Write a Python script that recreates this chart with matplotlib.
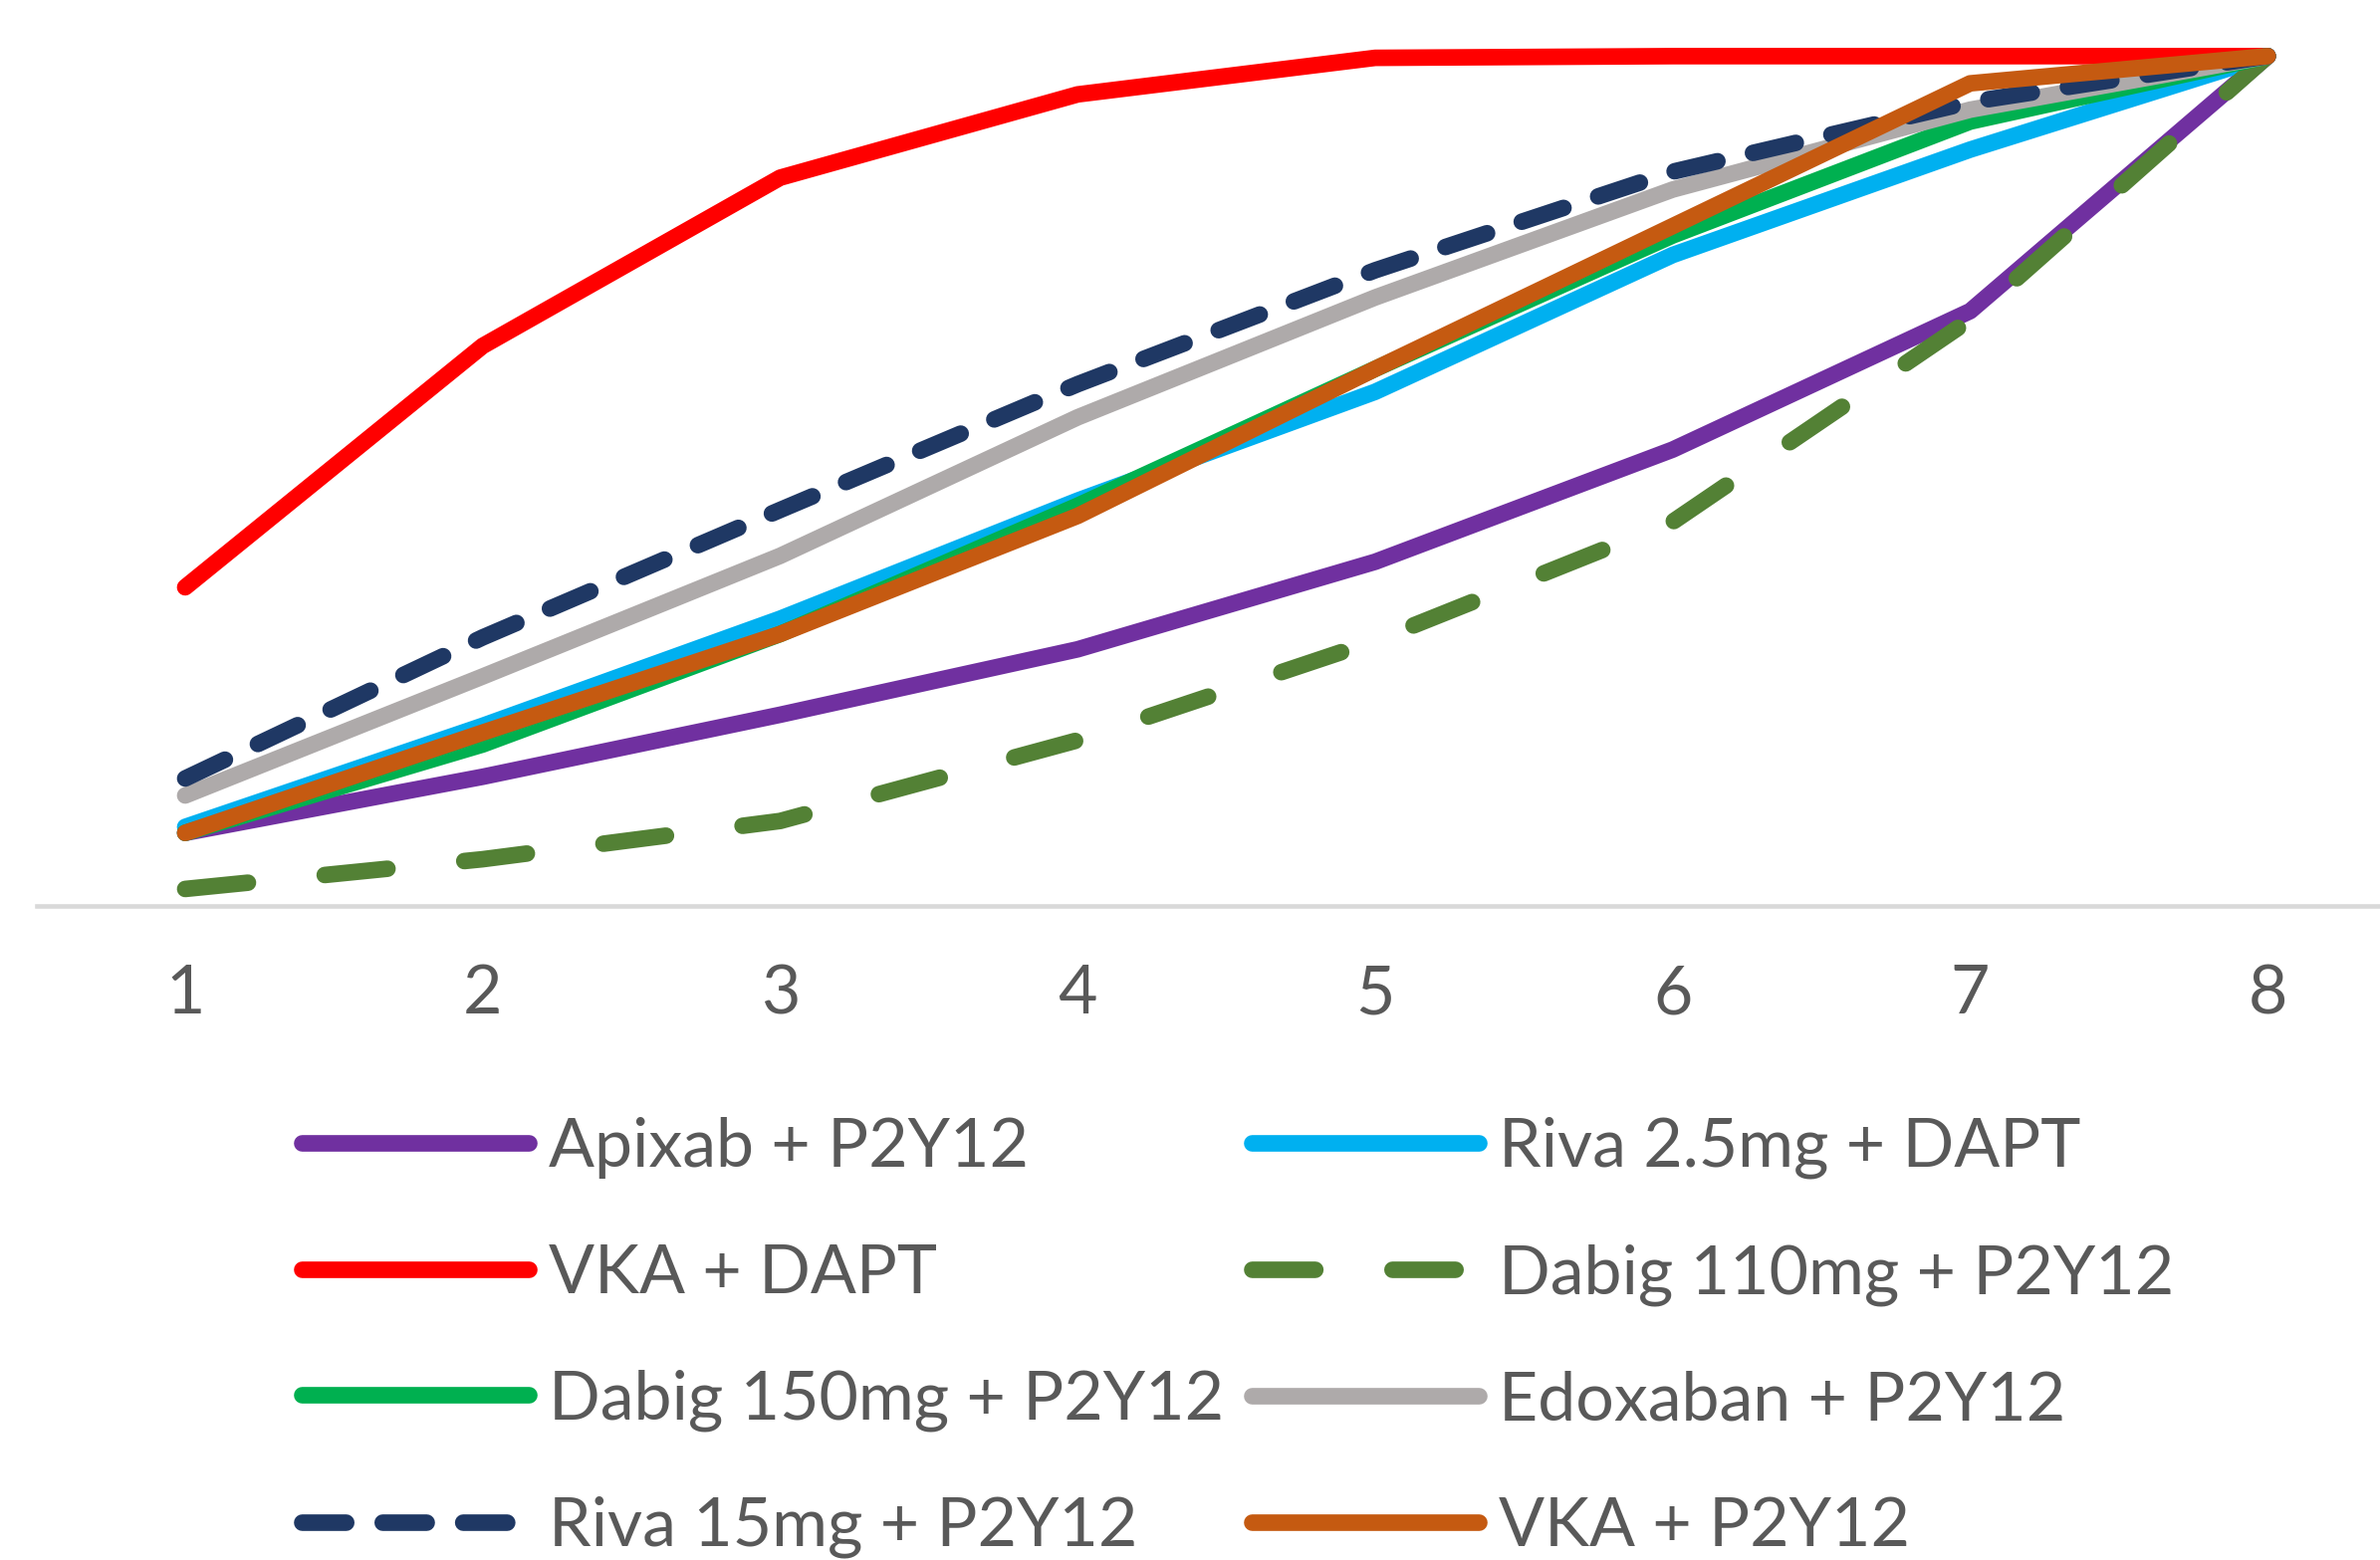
import matplotlib
matplotlib.use("Agg")
import matplotlib.pyplot as plt

ranks = [1, 2, 3, 4, 5, 6, 7, 8]
tick_labels = ["1", "2", "3", "4", "5", "6", "7", "8"]

apixab_p2y12 = [0.086, 0.152, 0.225, 0.302, 0.405, 0.537, 0.700, 1.0]
riva25_dapt = [0.093, 0.212, 0.338, 0.477, 0.605, 0.766, 0.890, 1.0]
vka_dapt = [0.375, 0.659, 0.857, 0.955, 0.998, 1.0, 1.0, 1.0]
dabig110_p2y12 = [0.020, 0.055, 0.100, 0.195, 0.312, 0.452, 0.690, 1.0]
dabig150_p2y12 = [0.086, 0.190, 0.320, 0.471, 0.632, 0.789, 0.923, 1.0]
edoxaban_p2y12 = [0.130, 0.270, 0.412, 0.575, 0.716, 0.843, 0.937, 1.0]
riva15_p2y12 = [0.150, 0.316, 0.466, 0.614, 0.748, 0.864, 0.946, 1.0]
vka_p2y12 = [0.086, 0.204, 0.320, 0.459, 0.632, 0.800, 0.968, 1.0]

series_names = ["Apixab + P2Y12", "Riva 2.5mg + DAPT", "VKA + DAPT", "Dabig 110mg + P2Y12",
                "Dabig 150mg + P2Y12", "Edoxaban + P2Y12", "Riva 15mg + P2Y12", "VKA + P2Y12"]
series_values = [apixab_p2y12, riva25_dapt, vka_dapt, dabig110_p2y12,
                 dabig150_p2y12, edoxaban_p2y12, riva15_p2y12, vka_p2y12]
colors = ["#7030A0", "#00B0F0", "#FF0000", "#538135",
          "#00B050", "#AEAAAA", "#1F3864", "#C55A11"]
styles = ["solid", "solid", "solid", (0, (3.8, 4.65)),
          "solid", "solid", (0, (2.65, 2.2)), "solid"]

font = ["Lato", "DejaVu Sans"]
plt.rcParams['font.family'] = font

W, H = 2390, 1567
fig = plt.figure(figsize=(W / 100, H / 100), dpi=100)
# layout measured in shrunk-reference coordinates (1568x1028)
sx, sy = 1568.0, 1028.0
left, right = 24 / sx, 1592 / sx
bottom, top = 1 - 597 / sy, 1 - 37 / sy
ax = fig.add_axes([left, bottom, right - left, top - bottom])
ax.set_xlim(0.5, 8.5)
ax.set_ylim(0, 1)

lw = 12
handles = []
for name, vals, c, ls in zip(series_names, series_values, colors, styles):
    ln, = ax.plot(ranks, vals, color=c, lw=lw, linestyle=ls, label=name,
                  solid_capstyle='round', dash_capstyle='round',
                  solid_joinstyle='round', clip_on=False)
    handles.append(ln)

for s in ["top", "right", "left"]:
    ax.spines[s].set_visible(False)
ax.spines["bottom"].set_color("#D9D9D9")
ax.spines["bottom"].set_linewidth(3.3)
ax.spines["bottom"].set_zorder(0)
ax.set_yticks([])
ax.set_xticks(ranks)
ax.set_xticklabels(tick_labels)

fs = 49
ax.tick_params(axis='x', length=0, pad=42, labelsize=fs, labelcolor="#595959")

col1 = [handles[i] for i in (0, 2, 4, 6)]
col2 = [handles[i] for i in (1, 3, 5, 7)]
common = dict(frameon=False, fontsize=fs, handlelength=3.35, handletextpad=0.29,
              labelspacing=0.95, borderpad=0, borderaxespad=0, labelcolor="#595959",
              loc='upper left')
leg1 = fig.legend(handles=col1, labels=[h.get_label() for h in col1],
                  bbox_to_anchor=(199 / sx, 1 - 736 / sy), **common)
leg2 = fig.legend(handles=col2, labels=[h.get_label() for h in col2],
                  bbox_to_anchor=(825 / sx, 1 - 736 / sy), **common)

fig.savefig("out.png", dpi=100, facecolor="white")
